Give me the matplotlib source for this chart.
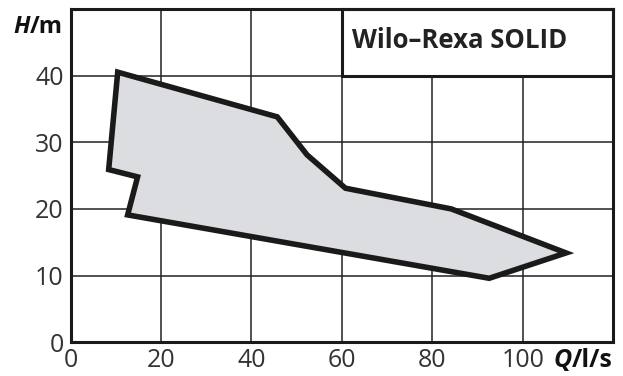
import matplotlib.pyplot as plt
from matplotlib.patches import Polygon, Rectangle

# Operating range of the pump (Q in l/s, H in m), traced clockwise
q_vals = [10.4, 45.7, 52.3, 60.8, 84.2, 109.6, 92.6, 12.6, 14.8, 8.4]
h_vals = [40.5, 33.8, 28.1, 23.1, 20.0, 13.4, 9.6, 19.1, 24.8, 25.9]

x_ticks = [0, 20, 40, 60, 80, 100]
y_ticks = [0, 10, 20, 30, 40]
title = "Wilo\u2013Rexa SOLID"

plt.rcParams["font.family"] = ["Open Sans", "DejaVu Sans"]

fig = plt.figure(figsize=(6.23, 3.76), dpi=100)
ax = fig.add_axes([0.1135, 0.0896, 0.8705, 0.887])
ax.set_xlim(0, 120)
ax.set_ylim(0, 50)

# grid
for x in x_ticks[1:]:
    ax.axvline(x, color="#222222", lw=1.1, zorder=1)
for y in y_ticks[1:]:
    ax.axhline(y, color="#222222", lw=1.1, zorder=1)

poly = Polygon(list(zip(q_vals, h_vals)), closed=True, facecolor="#dcdde0",
               edgecolor="#1a1a1a", lw=4, joinstyle="miter", zorder=3)
ax.add_patch(poly)

# title box in the upper right corner
box = Rectangle((60, 40), 60, 10, facecolor="white", edgecolor="#1a1a1a",
                lw=2.2, zorder=4, clip_on=False)
ax.add_patch(box)
ax.text(62.3, 45.3, title, fontsize=18.5, fontweight="bold", color="#222222",
        ha="left", va="center", zorder=5)

for s in ax.spines.values():
    s.set_linewidth(2.2)
    s.set_color("#1a1a1a")
    s.set_zorder(6)

ax.set_xticks(x_ticks)
ax.set_yticks(y_ticks)
ax.tick_params(length=0, labelsize=18, labelcolor="#333333")
ax.tick_params(axis="x", pad=4)
ax.tick_params(axis="y", pad=5)

# axis labels
t_q = ax.text(1.0, -0.055, "/l/s", transform=ax.transAxes, ha="right",
              va="center", fontsize=18, fontweight="bold", color="#111111")
ax.annotate("Q", xy=(0, 0), xycoords=t_q, ha="right", va="bottom",
            fontsize=18, fontweight="bold", style="italic", color="#111111")
t_h = ax.text(-0.014, 0.945, "/m", transform=ax.transAxes, ha="right",
              va="center", fontsize=17, fontweight="bold", color="#111111")
ax.annotate("H", xy=(0, 0), xycoords=t_h, ha="right", va="bottom",
            fontsize=17, fontweight="bold", style="italic", color="#111111")

fig.savefig("out.png", dpi=100)
